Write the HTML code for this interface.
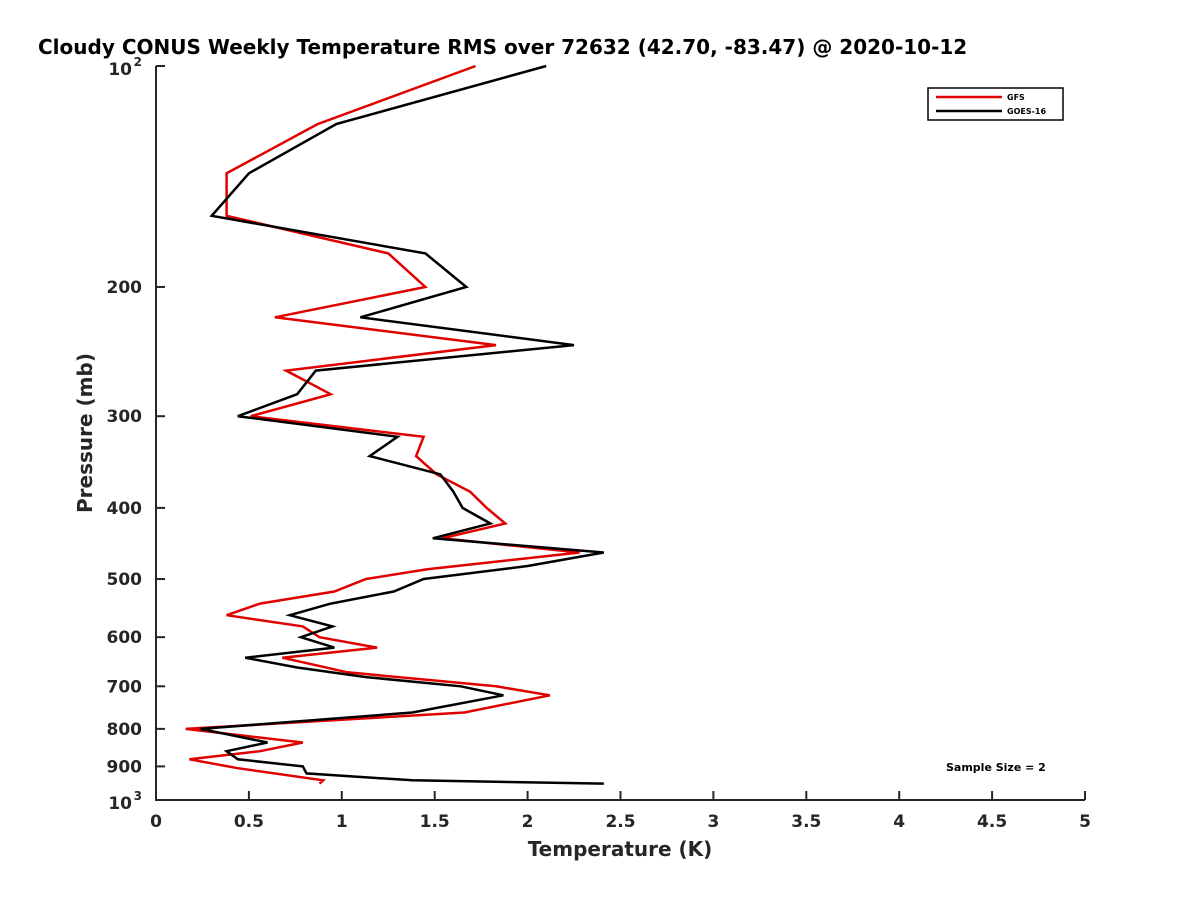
<!DOCTYPE html>
<html><head><meta charset="utf-8"><style>
body{margin:0;background:#fff;}
svg{display:block;font-family:"DejaVu Sans","Liberation Sans",sans-serif;}
</style></head><body>
<svg id="chart" width="1200" height="900" viewBox="0 0 1200 900">
<rect width="1200" height="900" fill="#fff"/>
<text x="38" y="54" font-size="20" font-weight="bold" fill="#000">Cloudy CONUS Weekly Temperature RMS over 72632 (42.70, -83.47) @ 2020-10-12</text>
<g id="axes"></g>
<g id="series"></g>
<g>
<rect x="928" y="88" width="135" height="32" fill="#fff" stroke="#000" stroke-width="1.5"/>
<line x1="936" y1="97" x2="1002" y2="97" stroke="#e00000" stroke-width="2.5"/>
<text x="1007" y="100" font-size="8" font-weight="bold">GFS</text>
<line x1="936" y1="111" x2="1002" y2="111" stroke="#000" stroke-width="2.5"/>
<text x="1007" y="114" font-size="8" font-weight="bold">GOES-16</text>
</g>
<text x="946" y="771" font-size="11" font-weight="bold" fill="#000">Sample Size = 2</text>
<text x="620" y="856" font-size="20" font-weight="bold" fill="#262626" text-anchor="middle">Temperature (K)</text>
<text transform="translate(92,433) rotate(-90)" font-size="20" font-weight="bold" fill="#262626" text-anchor="middle">Pressure (mb)</text>
</svg>
<script>
const xTicks=[0,0.5,1,1.5,2,2.5,3,3.5,4,4.5,5];
const xTickLabels=["0","0.5","1","1.5","2","2.5","3","3.5","4","4.5","5"];
const yTicks=[200,300,400,500,600,700,800,900];
const goesP=[100,120,140,160,180,200,220,240,260,280,300,320,340,360,380,400,420,440,460,480,500,520,540,560,580,600,620,640,660,680,700,720,760,800,835,858,880,900,920,940,950];
const goesT=[2.10,0.97,0.50,0.30,1.45,1.67,1.10,2.25,0.86,0.76,0.44,1.30,1.15,1.53,1.60,1.65,1.80,1.49,2.41,2.0,1.44,1.28,0.94,0.72,0.95,0.78,0.96,0.48,0.76,1.13,1.64,1.87,1.38,0.24,0.60,0.38,0.44,0.79,0.81,1.38,2.41];
const gfsP=[100,120,140,160,180,200,220,240,260,280,300,320,340,360,380,400,420,440,460,485,500,520,540,560,580,600,620,640,670,700,720,760,800,835,858,880,905,940,950];
const gfsT=[1.72,0.87,0.38,0.38,1.25,1.45,0.64,1.83,0.70,0.94,0.51,1.44,1.40,1.51,1.69,1.78,1.88,1.54,2.28,1.46,1.13,0.96,0.56,0.38,0.79,0.88,1.19,0.68,1.03,1.83,2.12,1.66,0.16,0.79,0.56,0.18,0.44,0.90,0.88];
const X0=156,X1=1085,Y0=66,Y1=800;
function xs(t){return X0+(X1-X0)*t/5;}
function ys(p){return Y0+(Y1-Y0)*Math.log10(p/100);}
const NS="http://www.w3.org/2000/svg";
const axes=document.getElementById('axes');
function mk(tag,attrs,parent){const e=document.createElementNS(NS,tag);for(const k in attrs)e.setAttribute(k,attrs[k]);parent.appendChild(e);return e;}
const sp=mk('path',{d:`M${X0},${Y0}V${Y1}H${X1}`,fill:'none',stroke:'#262626','stroke-width':2},axes);


xTicks.forEach((t,i)=>{
  const x=xs(t);
  const l=mk('line',{x1:x,y1:Y1,x2:x,y2:Y1-9,stroke:'#262626','stroke-width':2},axes);
  
  
  const tx=mk('text',{x:x,y:Y1+27,'font-size':17,'font-weight':'bold',fill:'#262626','text-anchor':'middle'},axes);
  tx.textContent=xTickLabels[i];
  
  
});
[100,1000].concat(yTicks).forEach(p=>{
  const y=ys(p);
  const l=mk('line',{x1:X0,y1:y,x2:X0+9,y2:y,stroke:'#262626','stroke-width':2},axes);
  
  
});
yTicks.forEach(p=>{
  const y=ys(p);
  const tx=mk('text',{x:X0-14,y:y+6,'font-size':17,'font-weight':'bold',fill:'#262626','text-anchor':'end'},axes);
  tx.textContent=String(p);
  
  
});
[[100,'2'],[1000,'3']].forEach(([p,e])=>{
  const y=ys(p);
  const tx=mk('text',{x:X0-24,y:y+9,'font-size':17,'font-weight':'bold',fill:'#262626','text-anchor':'end'},axes);
  tx.textContent='10';
  
  
  const sx=mk('text',{x:X0-14,y:y,'font-size':12,'font-weight':'bold',fill:'#262626','text-anchor':'end'},axes);
  sx.textContent=e;
  
  
});
const ser=document.getElementById('series');
function line(P,T,color,name){
  const d=P.map((p,i)=>(i?'L':'M')+xs(T[i]).toFixed(1)+','+ys(p).toFixed(1)).join('');
  const pa=mk('path',{d:d,fill:'none',stroke:color,'stroke-width':2.5,'stroke-linejoin':'miter'},ser);
  
  
}
line(gfsP,gfsT,'#e00000','gfs-line');
line(goesP,goesT,'#000000','goes16-line');
</script>
</body></html>
